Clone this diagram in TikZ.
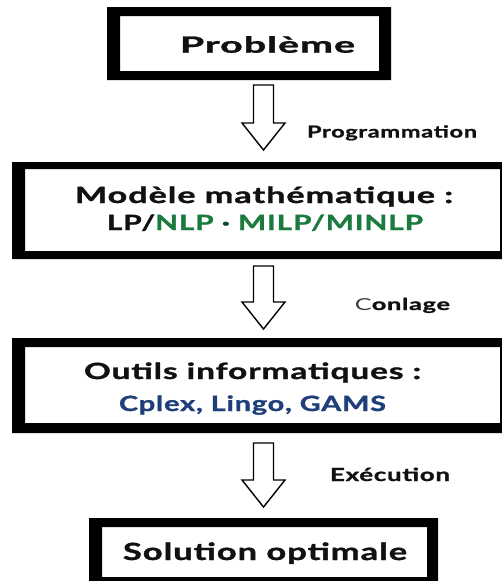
\documentclass[tikz,border=0pt]{standalone}
\usepackage{fontspec}
\usepackage{graphicx}
\setmainfont{Lato}[BoldFont={Lato Bold},BoldFeatures={FakeBold=1.2},LetterSpace=3]
\definecolor{modelgreen}{HTML}{1B7A3E}
\definecolor{toolblue}{HTML}{1F3F7A}
\definecolor{ink}{HTML}{111111}

% stretch a line of text horizontally to a given width, keeping its height
\newcommand\fitto[2]{\resizebox{#1pt}{\height}{#2}}

\tikzset{
  frame/.style={fill=black, even odd rule},
  hollow/.style={draw=black, line width=1.4pt, fill=white, line join=miter},
  title/.style={anchor=base, inner sep=0pt, text=ink, font=\bfseries\fontsize{22.3}{24}\selectfont},
  subtitle/.style={anchor=base, inner sep=0pt, font=\bfseries\fontsize{21}{23}\selectfont},
  steplabel/.style={anchor=base, inner sep=0pt, text=ink, font=\bfseries\fontsize{16.5}{18}\selectfont},
}

% hollow block arrow: centre x, shaft top y, tip y
\newcommand\blockarrow[3]{%
  \draw[hollow] ({#1-10},#2) -- ({#1+10},#2) -- ({#1+10},{#3-27}) -- ({#1+21.5},{#3-27})
    -- (#1,#3) -- ({#1-21.5},{#3-27}) -- ({#1-10},{#3-27}) -- cycle;}

\begin{document}
\begin{tikzpicture}[x=1pt,y=-1pt]
\useasboundingbox (0,0) rectangle (502,581);
\clip (0,0) rectangle (502,581);

% frames
\fill[frame] (107,7) rectangle (391,80) (120,16) rectangle (379,71);
\fill[frame] (12,162) rectangle (512,259) (25,169) rectangle (500,251);
\fill[frame] (12,338) rectangle (512,433) (25,347) rectangle (500,423);
\fill[frame] (89,518) rectangle (438,590) (102,527) rectangle (427,577);

% box texts
\node[title] (prob) at (267.5,52.7) {\fitto{175}{Problème}};
\node[title] (model) at (264,203) {\fitto{378}{Modèle mathématique :}};
\node[subtitle, text=ink] (modeltypes) at (265,230)
  {\fitto{316}{LP/\textcolor{modelgreen}{NLP} \textcolor{modelgreen!60!black}{·} \textcolor{modelgreen}{MILP/MINLP}}};
\node[title] (tools) at (252.5,379) {\fitto{337}{Outils informatiques :}};
\node[subtitle, text=toolblue] (toolnames) at (252.5,411) {\fitto{267}{Cplex, Lingo, GAMS}};
\node[title, font=\bfseries\fontsize{23.7}{26}\selectfont] (sol) at (265,560) {\fitto{284}{Solution optimale}};

% arrows between stages
\blockarrow{263.5}{85}{150}
\blockarrow{263.5}{266}{329}
\blockarrow{263.5}{443}{507}

% step labels
\node[steplabel] (lprog) at (392,137.5) {\fitto{170}{Programmation}};
\node[steplabel] (lcode) at (402.5,310) {\fitto{95}{\textmd{\textcolor{black!75}{C}}onlage}};
\node[steplabel, font=\bfseries\fontsize{18}{20}\selectfont] (lexec) at (390,481) {\fitto{120}{Exécution}};
\end{tikzpicture}
\end{document}
